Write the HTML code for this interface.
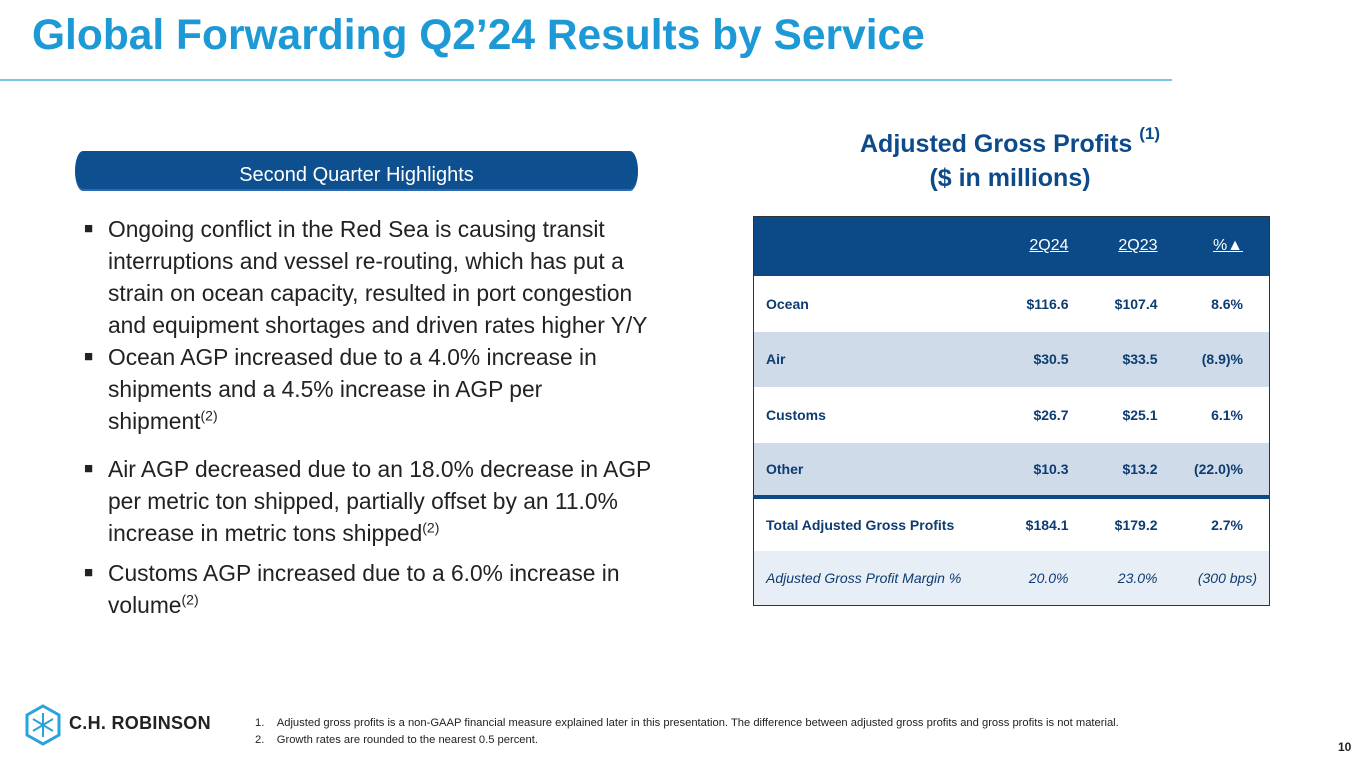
<!DOCTYPE html>
<html><head><meta charset="utf-8"><style>
body{margin:0;width:1365px;height:768px;position:relative;background:#fff;font-family:"Liberation Sans",sans-serif;overflow:hidden}
.abs{position:absolute}
#title{left:32px;top:12px;font-size:42.5px;font-weight:bold;color:#1d9ad6;white-space:nowrap}
#rule{left:0;top:79px;width:1172px;height:2px;background:#7cc4e6}
#pill{left:75px;top:151px;width:563px;height:40px;background:#0e4f8f;border-radius:8px/20px;color:#fff;font-size:20px;text-align:center;line-height:48px;box-shadow:0 -2px 0 #2a6ab0 inset}
.b{left:84px;width:620px;font-size:22.8px;line-height:32px;color:#222;white-space:nowrap}
.b span.sq{position:absolute;left:0;font-size:15px}
.b div{padding-left:24px}
sup{font-size:14px;line-height:0}
#at{left:760px;top:127px;width:500px;text-align:center;font-size:25px;font-weight:bold;color:#0d4a8a;line-height:34px}
table{position:absolute;left:753px;top:216px;width:516px;table-layout:fixed;border-collapse:collapse;border:1px solid #333;font-size:14px;font-weight:bold;color:#0d3c72}
td{padding:0;white-space:nowrap}
td.n{text-align:right}
td.p{text-align:right;padding-right:26px}
</style></head><body>
<div id="title" class="abs">Global Forwarding Q2’24 Results by Service</div>
<div id="rule" class="abs"></div>
<div id="pill" class="abs">Second Quarter Highlights</div>
<div class="abs b" style="top:213px"><span class="sq">■</span><div>Ongoing conflict in the Red Sea is causing transit<br>interruptions and vessel re-routing, which has put a<br>strain on ocean capacity, resulted in port congestion<br>and equipment shortages and driven rates higher Y/Y</div></div>
<div class="abs b" style="top:341px"><span class="sq">■</span><div>Ocean AGP increased due to a 4.0% increase in<br>shipments and a 4.5% increase in AGP per<br>shipment<sup>(2)</sup></div></div>
<div class="abs b" style="top:453px"><span class="sq">■</span><div>Air AGP decreased due to an 18.0% decrease in AGP<br>per metric ton shipped, partially offset by an 11.0%<br>increase in metric tons shipped<sup>(2)</sup></div></div>
<div class="abs b" style="top:557px"><span class="sq">■</span><div>Customs AGP increased due to a 6.0% increase in<br>volume<sup>(2)</sup></div></div>
<div id="at" class="abs">Adjusted Gross Profits <sup style="font-size:17px;position:relative;top:-4px">(1)</sup><br>($ in millions)</div>
<table>
<colgroup><col style="width:250px"><col style="width:65px"><col style="width:89px"><col style="width:112px"></colgroup>
<tr style="height:59px;background:#0b4a86;color:#fff;font-size:16px;font-weight:normal"><td></td><td class="n" style="text-decoration:underline">2Q24</td><td class="n" style="text-decoration:underline">2Q23</td><td class="p" style="text-decoration:underline">%▲</td></tr>
<tr style="height:56px"><td style="padding-left:12px">Ocean</td><td class="n">$116.6</td><td class="n">$107.4</td><td class="p">8.6%</td></tr>
<tr style="height:55px;background:#cfdbe8"><td style="padding-left:12px">Air</td><td class="n">$30.5</td><td class="n">$33.5</td><td class="p">(8.9)%</td></tr>
<tr style="height:56px"><td style="padding-left:12px">Customs</td><td class="n">$26.7</td><td class="n">$25.1</td><td class="p">6.1%</td></tr>
<tr style="height:54px;background:#cfdbe8;border-bottom:4px solid #0b4a86"><td style="padding-left:12px">Other</td><td class="n">$10.3</td><td class="n">$13.2</td><td class="p">(22.0)%</td></tr>
<tr style="height:54px"><td style="padding-left:12px">Total Adjusted Gross Profits</td><td class="n">$184.1</td><td class="n">$179.2</td><td class="p">2.7%</td></tr>
<tr style="height:55px;background:#e8eef5;font-weight:normal;font-style:italic"><td style="padding-left:12px">Adjusted Gross Profit Margin %</td><td class="n">20.0%</td><td class="n">23.0%</td><td class="n" style="padding-right:12px">(300 bps)</td></tr>
</table>
<svg class="abs" style="left:24px;top:704px" width="38" height="42" viewBox="0 0 38 42"><polygon points="19,2 35,11 35,31 19,40 3,31 3,11" fill="none" stroke="#29a3dc" stroke-width="3"/><path d="M19,9V33M9,15L29,27M29,15L9,27" stroke="#29a3dc" stroke-width="2" fill="none"/></svg>
<div class="abs" style="left:69px;top:713px;font-size:18px;font-weight:bold;color:#222;letter-spacing:0.3px">C.H. ROBINSON</div>
<div class="abs" style="left:255px;top:715px;font-size:11.2px;color:#222;line-height:17px;white-space:nowrap">1.&nbsp;&nbsp;&nbsp;&nbsp;Adjusted gross profits is a non-GAAP financial measure explained later in this presentation. The difference between adjusted gross profits and gross profits is not material.<br>2.&nbsp;&nbsp;&nbsp;&nbsp;Growth rates are rounded to the nearest 0.5 percent.</div>
<div class="abs" style="left:1338px;top:740px;font-size:12px;font-weight:bold;color:#222">10</div>
</body></html>
